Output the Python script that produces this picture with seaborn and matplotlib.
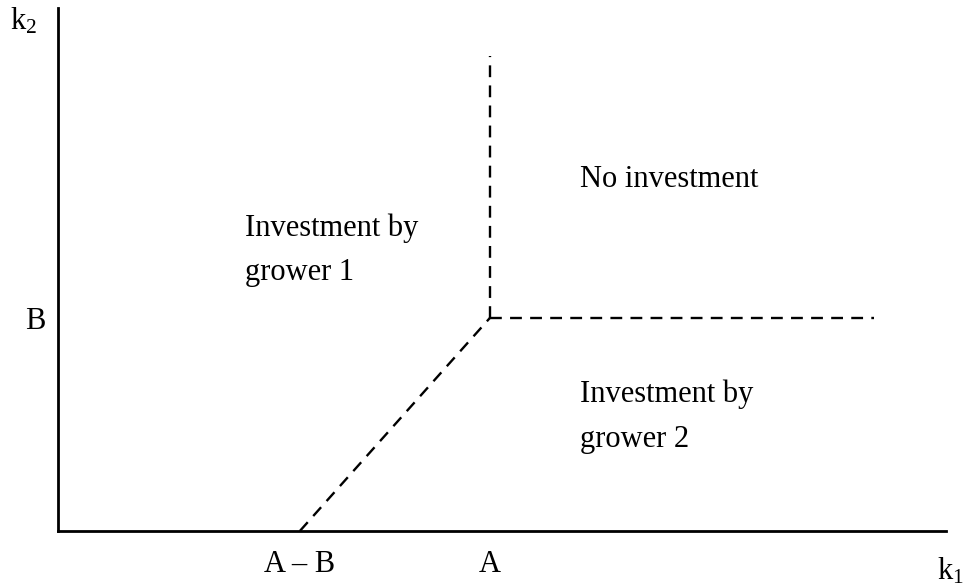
import matplotlib
matplotlib.use("Agg")
import matplotlib.pyplot as plt
import seaborn as sns
import pandas as pd

# ---- data ----
A = 10.0            # position of "A" on k1 axis
B = 4.4             # position of "B" on k2 axis
top_k2 = 9.8        # top end of the vertical boundary
right_k1 = 18.9     # right end of the horizontal boundary
seg_names = ["diag", "diag", "vert", "vert", "horiz", "horiz"]
seg_x = [A - B, A, A, A, A, right_k1]
seg_y = [0.0, B, B, top_k2, B, B]

xtick_pos = [A - B, A]
xtick_labels = ["A \u2013 B", "A"]
ytick_pos = [B]
ytick_labels = ["B"]

region_labels = ["Investment by\ngrower 1", "No investment", "Investment by\ngrower 2"]
region_x = [4.33, 12.08, 12.08]
region_y = [5.80, 7.25, 2.36]

df = pd.DataFrame({"seg": seg_names, "k1": seg_x, "k2": seg_y})

sns.set_style("white")
plt.rcParams["font.family"] = ["Liberation Serif", "DejaVu Serif"]
plt.rcParams["mathtext.default"] = "regular"
plt.rcParams["text.color"] = "black"
plt.rcParams["xtick.color"] = "black"
plt.rcParams["ytick.color"] = "black"

fig = plt.figure(figsize=(9.71, 5.86), dpi=100)
W, H = 971, 586
ax = fig.add_axes([58 / W, (H - 531) / H, (946 - 58) / W, (531 - 8) / H])

sns.lineplot(data=df, x="k1", y="k2", units="seg", estimator=None, sort=False,
             color="black", linewidth=1.7, ax=ax, legend=False)
for line in ax.lines:
    line.set_dashes([5, 3.5])

ax.set_xlim(0, 20.56)
ax.set_ylim(0, 10.8)
for s in ["top", "right"]:
    ax.spines[s].set_visible(False)
for s in ["left", "bottom"]:
    ax.spines[s].set_color("black")
    ax.spines[s].set_linewidth(2)

ax.set_xticks(xtick_pos)
ax.set_xticklabels(xtick_labels, fontsize=22, color="black")
ax.set_yticks(ytick_pos)
ax.set_yticklabels(ytick_labels, fontsize=22, color="black")
ax.tick_params(axis="x", length=0, pad=14)
ax.tick_params(axis="y", length=0, pad=9)
ax.set_xlabel("")
ax.set_ylabel("")

for lab, x, y in zip(region_labels, region_x, region_y):
    ax.text(x, y, lab, fontsize=22, ha="left", va="center", linespacing=1.7,
            color="black")

fig.text(10 / W, 1 - 30 / H, "k$_2$", fontsize=22, ha="left", va="baseline", color="black")
fig.text(937 / W, 1 - 580 / H, "k$_1$", fontsize=22, ha="left", va="baseline", color="black")

fig.savefig("out.png", dpi=100)
